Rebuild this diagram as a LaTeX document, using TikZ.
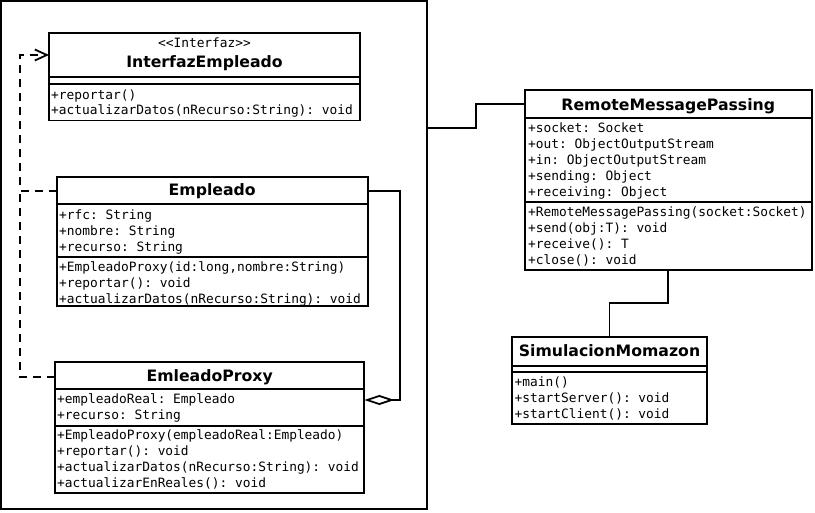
\documentclass[tikz,border=0pt]{standalone}
\usepackage{fontspec}
\setmainfont{DejaVu Sans}
\setmonofont{DejaVu Sans Mono}
\usetikzlibrary{arrows.meta}
\begin{document}
\begin{tikzpicture}[x=1pt,y=-1pt,
  box/.style={draw, line width=1.8pt, anchor=north west, inner sep=0pt, outer sep=0pt},
  member/.style={anchor=base west, inner sep=0pt, font=\ttfamily\fontsize{12.85}{15}\selectfont},
  cname/.style={anchor=base, inner sep=0pt, font=\bfseries\fontsize{15.7}{18}\selectfont},
  link/.style={line width=1.8pt},
  real/.style={link, dash pattern=on 8pt off 6pt},
]
\useasboundingbox (0,0) rectangle (815,513);
\fill[white] (0,0) rectangle (815,513);

% outer frame
\node[box, minimum width=426pt, minimum height=508pt] (frame) at (1,1) {};

% InterfazEmpleado
\node[box, minimum width=311pt, minimum height=87.5pt] (ie) at (49,33) {};
\draw[link] ([yshift=-43.7pt]ie.north west) -- ([yshift=-43.7pt]ie.north east);
\draw[link] ([yshift=-51.3pt]ie.north west) -- ([yshift=-51.3pt]ie.north east);
\node[member, anchor=base] (ie-st) at (204.5,47.7) {<<Interfaz>>};
\node[cname] (ie-t) at (204.5,68) {InterfazEmpleado};
\node[member] (ie-m1) at (51,99.3) {+reportar()};
\node[member] (ie-m2) at (51,115) {+actualizarDatos(nRecurso:String): void};

% Empleado
\node[box, minimum width=311pt, minimum height=129.3pt] (emp) at (56.7,176.7) {};
\draw[link] ([yshift=-27.6pt]emp.north west) -- ([yshift=-27.6pt]emp.north east);
\draw[link] ([yshift=-80pt]emp.north west) -- ([yshift=-80pt]emp.north east);
\node[cname] (emp-t) at (212.2,196) {Empleado};
\node[member] (emp-a1) at (59,219.3) {+rfc: String};
\node[member] (emp-a2) at (59,235.3) {+nombre: String};
\node[member] (emp-a3) at (59,251.3) {+recurso: String};
\node[member] (emp-m1) at (59,271.7) {+EmpleadoProxy(id:long,nombre:String)};
\node[member] (emp-m2) at (59,287.7) {+reportar(): void};
\node[member] (emp-m3) at (59,303.7) {+actualizarDatos(nRecurso:String): void};

% EmleadoProxy
\node[box, minimum width=309.3pt, minimum height=130.4pt] (ep) at (55,362.3) {};
\draw[link] ([yshift=-27pt]ep.north west) -- ([yshift=-27pt]ep.north east);
\draw[link] ([yshift=-63.4pt]ep.north west) -- ([yshift=-63.4pt]ep.north east);
\node[cname] (ep-t) at (209.7,381.7) {EmleadoProxy};
\node[member] (ep-a1) at (57,403.3) {+empleadoReal: Empleado};
\node[member] (ep-a2) at (57,419.3) {+recurso: String};
\node[member] (ep-m1) at (57,439.3) {+EmpleadoProxy(empleadoReal:Empleado)};
\node[member] (ep-m2) at (57,455.3) {+reportar(): void};
\node[member] (ep-m3) at (57,471.3) {+actualizarDatos(nRecurso:String): void};
\node[member] (ep-m4) at (57,487.3) {+actualizarEnReales(): void};

% RemoteMessagePassing
\node[box, minimum width=286.7pt, minimum height=180pt] (rmp) at (525,90) {};
\draw[link] ([yshift=-27.7pt]rmp.north west) -- ([yshift=-27.7pt]rmp.north east);
\draw[link] ([yshift=-111.7pt]rmp.north west) -- ([yshift=-111.7pt]rmp.north east);
\node[cname] (rmp-t) at (668.3,110.7) {RemoteMessagePassing};
\node[member] (rmp-a1) at (528,132.3) {+socket: Socket};
\node[member] (rmp-a2) at (528,148.3) {+out: ObjectOutputStream};
\node[member] (rmp-a3) at (528,164.3) {+in: ObjectOutputStream};
\node[member] (rmp-a4) at (528,180.3) {+sending: Object};
\node[member] (rmp-a5) at (528,196.3) {+receiving: Object};
\node[member] (rmp-m1) at (528,216.3) {+RemoteMessagePassing(socket:Socket)};
\node[member] (rmp-m2) at (528,232.3) {+send(obj:T): void};
\node[member] (rmp-m3) at (528,248.3) {+receive(): T};
\node[member] (rmp-m4) at (528,264.3) {+close(): void};

% SimulacionMomazon
\node[box, minimum width=194.4pt, minimum height=87.6pt] (sm) at (512.3,336.7) {};
\draw[link] ([yshift=-29pt]sm.north west) -- ([yshift=-29pt]sm.north east);
\draw[link] ([yshift=-35.6pt]sm.north west) -- ([yshift=-35.6pt]sm.north east);
\node[cname] (sm-t) at (609.5,356.7) {SimulacionMomazon};
\node[member] (sm-m1) at (514.5,386.7) {+main()};
\node[member] (sm-m2) at (514.5,402.7) {+startServer(): void};
\node[member] (sm-m3) at (514.5,418.7) {+startClient(): void};

% realization
\coordinate (r1) at (20,55);
\coordinate (r2) at (20,190.7);
\draw[real, -{Straight Barb[length=12pt,width=11pt,line width=1.8pt]}]
  (emp.west |- r2) -| (r1) -- (ie.west |- r1);
\draw[real] (ep.west |- 0,376.7) -| (r2);

% aggregation
\coordinate (a1) at (400,190.7);
\draw[link, {Diamond[open,fill=white,length=30pt,width=10pt,line width=1.8pt]}-]
  (ep.east |- 0,400) -| (a1) -- (emp.east |- a1);

% frame to RemoteMessagePassing
\coordinate (f1) at (475.7,104);
\draw[link] (frame.east |- 0,127.7) -| (f1) -- (rmp.west |- f1);

% RemoteMessagePassing to SimulacionMomazon
\coordinate (s1) at (668.3,303);
\draw[link] (rmp.south -| s1) -- (s1) -| (sm.north);
\end{tikzpicture}
\end{document}
